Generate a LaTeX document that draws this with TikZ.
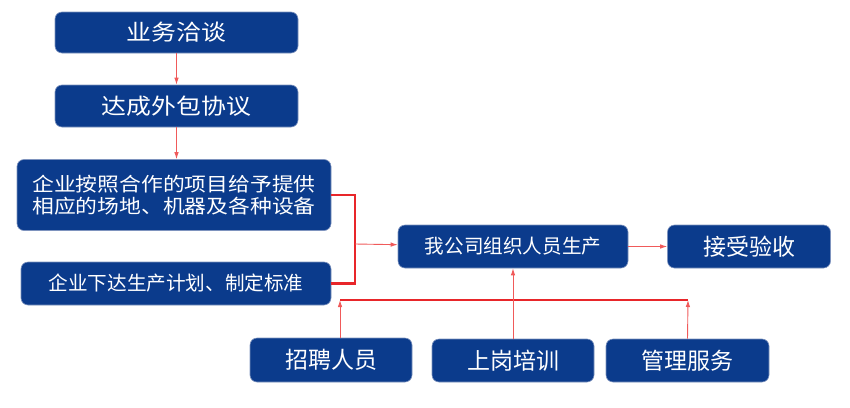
\documentclass[tikz,border=0pt]{standalone}
\usepackage{fontspec}
\newfontfamily\cjk{Noto Sans CJK SC}
\newfontfamily\cjkwide[FakeStretch=1.13]{Noto Sans CJK SC}
\usetikzlibrary{arrows.meta}
\definecolor{boxblue}{HTML}{0B3B8C}
\definecolor{boxedge}{HTML}{7E93BE}
\definecolor{busred}{HTML}{E8262A}
\definecolor{linkred}{HTML}{F05A5A}

\begin{document}
\begin{tikzpicture}
        [
            x=1pt, y=-1pt,
            box/.style={
                draw=boxedge,
                line width=0.6pt,
                fill=boxblue,
                rounded corners=7pt,
                text=white,
                inner sep=0pt,
                align=center,
                font=\cjk\fontsize{23}{25}\selectfont
            },
            link/.style={
                draw=linkred,
                line width=0.9pt,
                -{Latex[length=7pt,width=4.5pt]}
            },
            bus/.style={
                draw=busred,
                line width=2.2pt
            }
         ]
        \useasboundingbox (0,0) rectangle (850,407);
        \node[box, minimum width=243pt, minimum height=41pt,
            font=\cjkwide\fontsize{22}{24}\selectfont] (deal) at (176.5,32.5) {业务洽谈};
        \node[box, minimum width=243pt, minimum height=42pt,
            font=\cjkwide\fontsize{22}{24}\selectfont] (agree) at (176.5,106) {达成外包协议};
        \node[box, minimum width=314pt, minimum height=71pt,
            font=\cjkwide\fontsize{19.3}{22}\selectfont] (supply) at (174,195)
            {企业按照合作的项目给予提供\\相应的场地、机器及各种设备};
        \node[box, minimum width=310pt, minimum height=43pt,
            font=\cjk\fontsize{19.6}{22}\selectfont] (plan) at (176,283.5) {企业下达生产计划、制定标准};
        \node[box, minimum width=230pt, minimum height=43pt,
            font=\cjk\fontsize{19.6}{22}\selectfont] (produce) at (513,246.5) {我公司组织人员生产};
        \node[box, minimum width=163pt, minimum height=43pt] (accept) at (749,246.5) {接受验收};
        \node[box, minimum width=162pt, minimum height=44pt] (hire) at (331,360) {招聘人员};
        \node[box, minimum width=162pt, minimum height=43pt] (train) at (513,360.5) {上岗培训};
        \node[box, minimum width=163pt, minimum height=43pt] (manage) at (687.5,360.5) {管理服务};
        % joins
        \coordinate (join) at (355,244);
        \coordinate (busL) at (340,300);
        \coordinate (busR) at (688,300);
        % top chain
        \draw[link] (deal) -- (agree);
        \draw[link] (agree.south) -- (agree.south |- supply.north);
        % bracket into production
        \draw[bus] (supply.east) -| (join) |- (plan.east);
        \draw[link] (join) -- (produce);
        \draw[link] (produce) -- (accept);
        % support services
        \draw[bus] (busL) -- (busR);
        \draw[link] (hire.north -| busL) -- (busL);
        \draw[link] (train) -- (produce);
        \draw[link] (manage.north) -- (busR);
\end{tikzpicture}
\end{document}
